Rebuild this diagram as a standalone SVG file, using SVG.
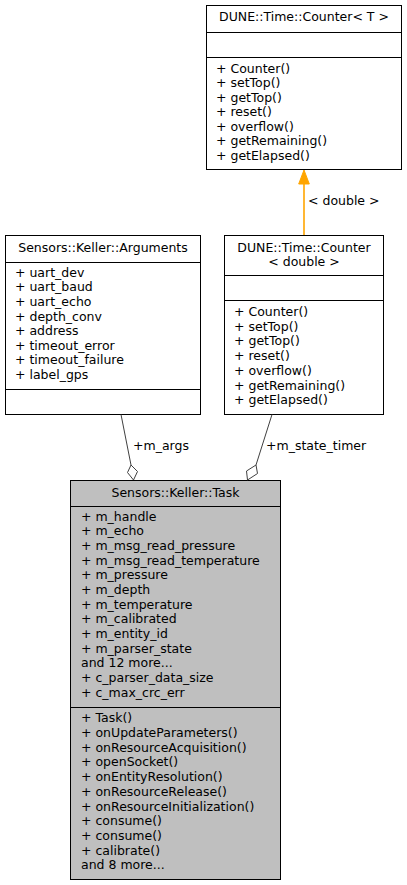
<svg xmlns="http://www.w3.org/2000/svg" width="407" height="885" viewBox="0 0 407 885">
<style>
text{font-family:"DejaVu Sans",sans-serif;font-size:12.5px;fill:#000}
.c{text-anchor:middle}
.box{fill:#fff;stroke:#000;stroke-width:1}
.g{fill:#bfbfbf;stroke:#000;stroke-width:1}
.sep{stroke:#000;stroke-width:1}
.edge{fill:none;stroke:#404040;stroke-width:1}
.dia{fill:#fff;stroke:#404040;stroke-width:1}
</style>
<rect width="407" height="885" fill="#fff"/>
<g id="counterT">
<rect class="box" x="206.5" y="5.5" width="195" height="164"/>
<line class="sep" x1="206.5" y1="32.5" x2="401.5" y2="32.5"/>
<line class="sep" x1="206.5" y1="57.5" x2="401.5" y2="57.5"/>
<text class="c" x="304" y="21">DUNE::Time::Counter&lt; T &gt;</text>
<text x="216" y="72.5">+ Counter()</text>
<text x="216" y="87">+ setTop()</text>
<text x="216" y="101.5">+ getTop()</text>
<text x="216" y="116">+ reset()</text>
<text x="216" y="130.5">+ overflow()</text>
<text x="216" y="145">+ getRemaining()</text>
<text x="216" y="159.5">+ getElapsed()</text>
</g>
<g id="arguments">
<rect class="box" x="5.5" y="235.5" width="195" height="179"/>
<line class="sep" x1="5.5" y1="262.5" x2="200.5" y2="262.5"/>
<line class="sep" x1="5.5" y1="389.5" x2="200.5" y2="389.5"/>
<text class="c" x="103" y="252">Sensors::Keller::Arguments</text>
<text x="15" y="276.7">+ uart_dev</text>
<text x="15" y="291.3">+ uart_baud</text>
<text x="15" y="305.9">+ uart_echo</text>
<text x="15" y="320.5">+ depth_conv</text>
<text x="15" y="335.1">+ address</text>
<text x="15" y="349.7">+ timeout_error</text>
<text x="15" y="364.3">+ timeout_failure</text>
<text x="15" y="378.9">+ label_gps</text>
</g>
<g id="counterDouble">
<rect class="box" x="224.5" y="235.5" width="159" height="179"/>
<line class="sep" x1="224.5" y1="275.5" x2="383.5" y2="275.5"/>
<line class="sep" x1="224.5" y1="300.5" x2="383.5" y2="300.5"/>
<text class="c" x="304" y="251.5">DUNE::Time::Counter</text>
<text class="c" x="304" y="266">&lt; double &gt;</text>
<text x="234" y="316">+ Counter()</text>
<text x="234" y="330.7">+ setTop()</text>
<text x="234" y="345.4">+ getTop()</text>
<text x="234" y="360.1">+ reset()</text>
<text x="234" y="374.8">+ overflow()</text>
<text x="234" y="389.5">+ getRemaining()</text>
<text x="234" y="404.2">+ getElapsed()</text>
</g>
<g id="task">
<rect class="g" x="70.5" y="480.5" width="210" height="399"/>
<line class="sep" x1="70.5" y1="506.5" x2="280.5" y2="506.5"/>
<line class="sep" x1="70.5" y1="707.5" x2="280.5" y2="707.5"/>
<text class="c" x="175.5" y="496.7">Sensors::Keller::Task</text>
<text x="81" y="520.7">+ m_handle</text>
<text x="81" y="535.4">+ m_echo</text>
<text x="81" y="550.1">+ m_msg_read_pressure</text>
<text x="81" y="564.7">+ m_msg_read_temperature</text>
<text x="81" y="579.4">+ m_pressure</text>
<text x="81" y="594.1">+ m_depth</text>
<text x="81" y="608.7">+ m_temperature</text>
<text x="81" y="623.4">+ m_calibrated</text>
<text x="81" y="638.1">+ m_entity_id</text>
<text x="81" y="652.7">+ m_parser_state</text>
<text x="81" y="667.4">and 12 more...</text>
<text x="81" y="682.1">+ c_parser_data_size</text>
<text x="81" y="696.7">+ c_max_crc_err</text>
<text x="81" y="722.3">+ Task()</text>
<text x="81" y="737">+ onUpdateParameters()</text>
<text x="81" y="751.7">+ onResourceAcquisition()</text>
<text x="81" y="766.4">+ openSocket()</text>
<text x="81" y="781.1">+ onEntityResolution()</text>
<text x="81" y="795.8">+ onResourceRelease()</text>
<text x="81" y="810.5">+ onResourceInitialization()</text>
<text x="81" y="825.2">+ consume()</text>
<text x="81" y="839.9">+ consume()</text>
<text x="81" y="854.6">+ calibrate()</text>
<text x="81" y="869.3">and 8 more...</text>
</g>
<g id="connectors">
<line x1="304" y1="183" x2="304" y2="235" stroke="#ffa500" stroke-width="1.6"/>
<polygon points="304,170 298.7,184 309.3,184" fill="#ffa500" stroke="#ffa500"/>
<text x="308" y="205">&lt; double &gt;</text>
<line class="edge" x1="121" y1="414.5" x2="131" y2="465"/>
<polygon class="dia" points="131,465 137.5,471.5 133.5,480 127.5,472.5"/>
<text x="133" y="450">+m_args</text>
<line class="edge" x1="272" y1="414.5" x2="256" y2="465"/>
<polygon class="dia" points="256,465 257.5,473.5 247.5,480 246.5,471"/>
<text x="266" y="450">+m_state_timer</text>
</g>
</svg>
